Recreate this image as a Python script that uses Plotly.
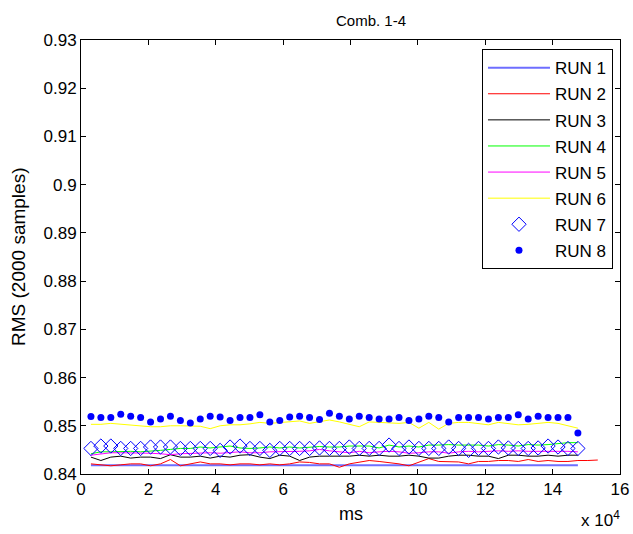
import plotly.graph_objects as go

# ---------------- data ----------------
time_ms = [2950, 5900, 8850, 11800, 14750, 17700, 20650, 23600, 26550, 29500,
           32450, 35400, 38350, 41300, 44250, 47200, 50150, 53100, 56050, 59000,
           61950, 64900, 67850, 70800, 73750, 76700, 79650, 82600, 85550, 88500,
           91450, 94400, 97350, 100300, 103250, 106200, 109150, 112100, 115050, 118000,
           120950, 123900, 126850, 129800, 132750, 135700, 138650, 141600, 144550, 147500]

time_ms_run2 = time_ms + [150450, 153400]

run1 = [0.8418] * 50

run2 = [0.8421, 0.8419, 0.8417, 0.8419, 0.8421, 0.8421, 0.8417, 0.8421, 0.8430, 0.8417,
        0.8421, 0.8425, 0.8421, 0.8421, 0.8419, 0.8421, 0.8421, 0.8419, 0.8421, 0.8419,
        0.8421, 0.8425, 0.8424, 0.8421, 0.8421, 0.8414, 0.8421, 0.8425, 0.8428, 0.8426,
        0.8424, 0.8421, 0.8417, 0.8425, 0.8432, 0.8426, 0.8426, 0.8425, 0.8421, 0.8426,
        0.8426, 0.8428, 0.8428, 0.8426, 0.8430, 0.8426, 0.8428, 0.8426, 0.8426, 0.8428,
        0.8428, 0.8429]

run3 = [0.8435, 0.8428, 0.8435, 0.8437, 0.8433, 0.8435, 0.8435, 0.8432, 0.8440, 0.8435,
        0.8435, 0.8437, 0.8433, 0.8437, 0.8435, 0.8439, 0.8440, 0.8435, 0.8432, 0.8439,
        0.8437, 0.8428, 0.8435, 0.8437, 0.8437, 0.8437, 0.8437, 0.8439, 0.8437, 0.8439,
        0.8437, 0.8437, 0.8439, 0.8437, 0.8433, 0.8433, 0.8437, 0.8439, 0.8439, 0.8437,
        0.8437, 0.8432, 0.8439, 0.8439, 0.8437, 0.8437, 0.8439, 0.8437, 0.8439, 0.8439]

run4 = [0.8442, 0.8446, 0.8446, 0.8447, 0.8447, 0.8446, 0.8447, 0.8449, 0.8451, 0.8453,
        0.8453, 0.8456, 0.8454, 0.8456, 0.8458, 0.8454, 0.8453, 0.8454, 0.8456, 0.8454,
        0.8456, 0.8454, 0.8456, 0.8457, 0.8456, 0.8456, 0.8458, 0.8458, 0.8458, 0.8454,
        0.8460, 0.8456, 0.8458, 0.8456, 0.8460, 0.8460, 0.8461, 0.8460, 0.8460, 0.8460,
        0.8458, 0.8461, 0.8460, 0.8458, 0.8461, 0.8460, 0.8461, 0.8463, 0.8465, 0.8465]

run5 = [0.8439, 0.8442, 0.8444, 0.8444, 0.8444, 0.8444, 0.8443, 0.8442, 0.8440, 0.8442,
        0.8443, 0.8444, 0.8444, 0.8443, 0.8444, 0.8446, 0.8444, 0.8444, 0.8446, 0.8446,
        0.8447, 0.8447, 0.8448, 0.8451, 0.8448, 0.8446, 0.8444, 0.8447, 0.8444, 0.8446,
        0.8447, 0.8446, 0.8443, 0.8444, 0.8446, 0.8446, 0.8443, 0.8446, 0.8447, 0.8446,
        0.8447, 0.8448, 0.8447, 0.8448, 0.8447, 0.8447, 0.8448, 0.8447, 0.8447, 0.8446]

run6 = [0.8503, 0.8503, 0.8505, 0.8503, 0.8502, 0.8500, 0.8498, 0.8498, 0.8500, 0.8500,
        0.8500, 0.8499, 0.8494, 0.8500, 0.8502, 0.8502, 0.8504, 0.8507, 0.8505, 0.8507,
        0.8508, 0.8510, 0.8505, 0.8508, 0.8512, 0.8508, 0.8503, 0.8498, 0.8508, 0.8507,
        0.8505, 0.8505, 0.8507, 0.8495, 0.8507, 0.8493, 0.8505, 0.8507, 0.8507, 0.8505,
        0.8502, 0.8507, 0.8505, 0.8502, 0.8503, 0.8505, 0.8507, 0.8505, 0.8500, 0.8495]

run7 = [0.8453, 0.8458, 0.8458, 0.8453, 0.8453, 0.8453, 0.8456, 0.8456, 0.8456, 0.8453,
        0.8453, 0.8453, 0.8453, 0.8449, 0.8456, 0.8458, 0.8453, 0.8453, 0.8449, 0.8453,
        0.8453, 0.8453, 0.8453, 0.8454, 0.8453, 0.8453, 0.8456, 0.8453, 0.8453, 0.8453,
        0.8460, 0.8453, 0.8456, 0.8453, 0.8453, 0.8453, 0.8456, 0.8453, 0.8449, 0.8453,
        0.8453, 0.8456, 0.8454, 0.8453, 0.8453, 0.8454, 0.8458, 0.8456, 0.8453, 0.8453]

run8 = [0.8519, 0.8517, 0.8517, 0.8524, 0.8520, 0.8517, 0.8508, 0.8514, 0.8520, 0.8511,
        0.8506, 0.8514, 0.8520, 0.8518, 0.8511, 0.8517, 0.8517, 0.8523, 0.8508, 0.8511,
        0.8518, 0.8520, 0.8517, 0.8513, 0.8526, 0.8520, 0.8514, 0.8520, 0.8517, 0.8514,
        0.8514, 0.8517, 0.8511, 0.8514, 0.8520, 0.8517, 0.8508, 0.8517, 0.8517, 0.8517,
        0.8514, 0.8517, 0.8517, 0.8523, 0.8514, 0.8520, 0.8517, 0.8517, 0.8517, 0.8485]

run_names = ["RUN 1", "RUN 2", "RUN 3", "RUN 4", "RUN 5", "RUN 6", "RUN 7", "RUN 8"]

x_tick_vals = [0, 20000, 40000, 60000, 80000, 100000, 120000, 140000, 160000]
x_tick_text = ["0", "2", "4", "6", "8", "10", "12", "14", "16"]
y_tick_vals = [0.84, 0.85, 0.86, 0.87, 0.88, 0.89, 0.90, 0.91, 0.92, 0.93]
y_tick_text = ["0.84", "0.85", "0.86", "0.87", "0.88", "0.89", "0.9", "0.91", "0.92", "0.93"]

title_text = "Comb. 1-4"
x_title = "ms"
y_title = "RMS (2000 samples)"
x_exponent = "x 10<sup>4</sup>"

# ---------------- figure ----------------
FONT = "Arial, 'Liberation Sans', sans-serif"
fig = go.Figure()

line_series = [
    (time_ms, run1, "rgb(110,110,255)", 2),
    (time_ms_run2, run2, "#ff0000", 1),
    (time_ms, run3, "#000000", 1),
    (time_ms, run4, "#00ff00", 1),
    (time_ms, run5, "#ff00ff", 1),
    (time_ms, run6, "#ffff00", 1),
]
for (xs, ys, col, w), name in zip(line_series, run_names[:6]):
    fig.add_trace(go.Scatter(x=xs, y=ys, mode="lines", name=name, legendgroup=name,
                             line=dict(color=col, width=w)))

fig.add_trace(go.Scatter(x=time_ms, y=run7, mode="markers", name=run_names[6],
                         legendgroup=run_names[6],
                         marker=dict(symbol="diamond-open", size=11, color="#0000ff",
                                     line=dict(color="#0000ff", width=1))))
fig.add_trace(go.Scatter(x=time_ms, y=run8, mode="markers", name=run_names[7],
                         legendgroup=run_names[7],
                         marker=dict(symbol="circle", size=7, color="#0000ff")))

axis_common = dict(showline=True, linecolor="black", linewidth=1, mirror="ticks",
                   ticks="inside", ticklen=5, tickcolor="black", tickwidth=1,
                   showgrid=False, zeroline=False, automargin=False,
                   tickfont=dict(family=FONT, size=17, color="black"))

fig.update_xaxes(range=[0, 160000], tickmode="array", tickvals=x_tick_vals,
                 ticktext=x_tick_text, **axis_common)
fig.update_yaxes(range=[0.84, 0.93], tickmode="array", tickvals=y_tick_vals,
                 ticktext=y_tick_text, **axis_common)

fig.update_layout(
    width=633, height=534, autosize=False,
    margin=dict(l=81, r=13, t=40, b=60, pad=0, autoexpand=False),
    paper_bgcolor="white", plot_bgcolor="white",
    font=dict(family=FONT, size=17, color="black"),
    showlegend=True,
    legend=dict(x=0.987, xanchor="right", y=0.979, yanchor="top",
                bgcolor="white", bordercolor="black", borderwidth=1,
                font=dict(family=FONT, size=17, color="black"),
                itemwidth=62, tracegroupgap=1, traceorder="grouped"),
    annotations=[
        dict(text=title_text, xref="paper", yref="paper", x=0.538, y=1.046,
             xanchor="center", yanchor="middle", showarrow=False,
             font=dict(family=FONT, size=15, color="black")),
        dict(text=x_title, xref="paper", yref="paper", x=0.5, y=-0.092,
             xanchor="center", yanchor="middle", showarrow=False,
             font=dict(family=FONT, size=18, color="black")),
        dict(text=y_title, xref="paper", yref="paper", x=-0.1169, y=0.5,
             xanchor="center", yanchor="middle", showarrow=False, textangle=-90,
             font=dict(family=FONT, size=19, color="black")),
        dict(text=x_exponent, xref="paper", yref="paper", x=0.924, y=-0.1336,
             xanchor="left", yanchor="bottom", showarrow=False,
             font=dict(family=FONT, size=17, color="black")),
    ],
)

fig.write_html("out.html", config={"responsive": False, "displayModeBar": False},
               post_script="document.body.style.margin='0px';"
                           "document.body.style.overflow='hidden';")
